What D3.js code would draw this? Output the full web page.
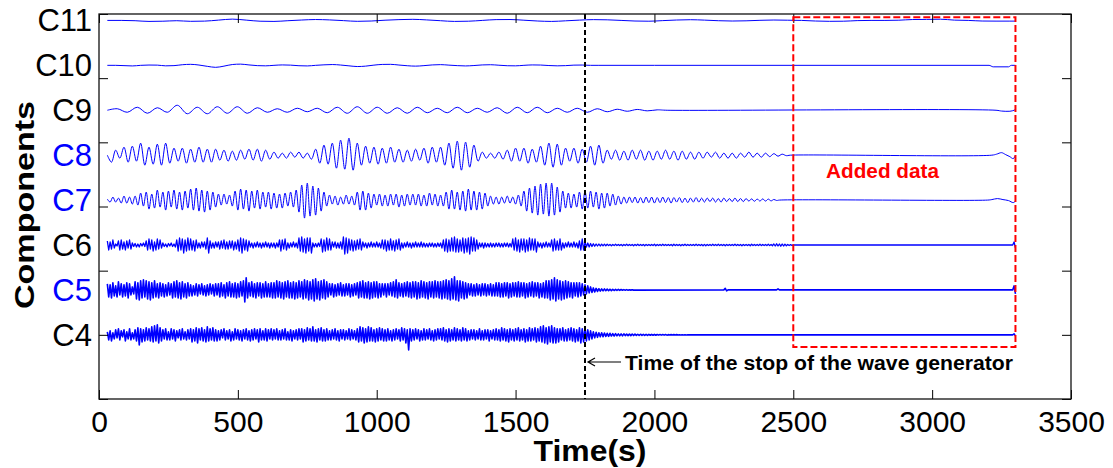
<!DOCTYPE html>
<html><head><meta charset="utf-8">
<script src="https://cdn.jsdelivr.net/npm/d3@7"></script>
<style>body{margin:0;background:#fff}svg{display:block}text{font-family:"Liberation Sans",Arial,sans-serif}</style>
</head><body>
<svg id="chart" width="1113" height="468"></svg>
<script>
// ---------- data ----------
const componentNames = ["C4","C5","C6","C7","C8","C9","C10","C11"];
const componentLevels = [1, 1.7, 2.4, 3.1, 3.8, 4.5, 5.2, 5.9];
const xTicks = [0,500,1000,1500,2000,2500,3000,3500];
const yTicks = [0,1,2,3,4,5,6];
const tStart = 30;
const stopTime = 1750;
const addedStart = 2500, addedEnd = 3300, addedLow = 0.81, addedHigh = 5.95;

const c4Step = 5;
const c4 = [
3,-5,4,-6,2,-4,5,-3,6,-5,4,-2,5,-6,3,-4,6,-5,2,-4,
5,-6,7,-10,6,-7,5,-6,7,-5,6,-6,8,-7,9,-6,10,-8,7,-6,
5,-4,6,-5,3,-5,6,-4,5,-6,4,-3,5,-5,6,-4,3,-5,5,-4,
6,-7,5,-6,7,-8,6,-5,7,-6,5,-7,8,-6,6,-5,7,-6,5,-6,
4,-5,5,-3,6,-5,4,-4,5,-6,3,-5,6,-4,5,-5,4,-6,5,-4,
6,-5,4,-6,5,-5,6,-4,5,-7,6,-5,4,-5,6,-6,5,-4,6,-5,
5,-4,6,-5,4,-5,5,-4,6,-5,3,-5,5,-6,4,-4,5,-5,6,-4,
6,-7,5,-6,7,-5,6,-6,8,-6,5,-7,6,-5,7,-6,5,-6,6,-5,
4,-5,5,-4,6,-5,4,-6,5,-4,5,-5,4,-4,6,-5,5,-4,4,-5,
6,-7,8,-6,7,-8,6,-7,8,-6,7,-6,5,-7,6,-6,7,-5,6,-6,
5,-6,6,-5,4,-6,5,-5,6,-4,5,-6,7,-5,6,-8,5,-15,6,-6,
5,-5,6,-4,5,-6,4,-5,6,-5,5,-4,6,-5,4,-6,5,-5,6,-4,
6,-5,7,-6,5,-7,6,-6,5,-5,7,-6,6,-5,5,-6,7,-5,6,-6,
4,-5,5,-4,5,-5,4,-4,6,-5,4,-5,5,-4,5,-6,4,-4,5,-5,
6,-5,5,-6,7,-5,6,-6,5,-7,6,-5,5,-6,6,-5,7,-6,5,-5,
6,-7,5,-6,7,-6,6,-5,7,-7,6,-6,8,-7,9,-8,7,-9,8,-7,
9,-8,7,-8,6,-7,6,-5,7,-6,5,-6,6,-5,7,-6,6,-7,5,-6,
7,-8,6,-7,7,-6,5,-5,4,-4,3,-3,2.5,-2.5,2,-2,2,-1.8,1.8,-1.5,
1.5,-1.5,1.5,-1.2,1.2,-1.2,1.2,-1,1,-1,1,-1,1,-0.8,0.8,-0.8,0.8,-0.8,0.8,-0.7,
0.7,-0.6,0.6,-0.6,0.6,-0.5,0.5,-0.5,0.5,-0.5,0.5,-0.4,0.4,-0.4,0.4,-0.4,0.4,-0.3,0.3,-0.3,
0.3,-0.3,0.3,-0.3,0.2,-0.2,0.2,-0.2,0.2,-0.2,0.2,-0.2,0.1,-0.1,0.1,-0.1,0.1,-0.1,0,0];
const c4Tail = [[3290,0],[3295,1],[3300,-1]];

const c5Step = 5;
const c5 = [
6,-7,5,-8,7,-6,4,-7,8,-5,6,-7,5,-6,7,-8,6,-5,3,-4,
8,-9,7,-10,9,-8,10,-7,9,-9,8,-10,7,-8,9,-7,6,-8,7,-6,
6,-7,5,-6,7,-5,6,-8,8,-7,9,-8,7,-9,8,-7,6,-8,7,-6,
5,-6,4,-5,6,-6,5,-4,6,-5,4,-6,5,-5,6,-4,5,-6,6,-5,
6,-7,7,-6,5,-8,7,-6,8,-7,6,-7,7,-8,6,-7,8,-6,9,-12,
12,-8,7,-6,8,-7,6,-8,7,-6,7,-8,6,-7,8,-7,6,-7,7,-8,
7,-8,9,-7,8,-8,7,-9,8,-7,9,-8,7,-8,8,-9,7,-8,9,-7,
8,-9,10,-8,9,-10,8,-9,10,-11,11,-9,8,-10,9,-8,10,-9,8,-7,
6,-5,6,-7,5,-6,6,-5,7,-6,5,-6,6,-5,6,-7,5,-6,6,-5,
7,-8,8,-7,9,-8,7,-8,8,-9,7,-8,8,-7,8,-8,6,-7,6,-5,
6,-7,6,-5,7,-6,8,-7,10,-8,7,-6,6,-7,7,-6,8,-7,7,-8,
8,-7,8,-9,7,-8,9,-7,8,-8,7,-9,8,-7,8,-8,9,-7,8,-8,
8,-9,9,-8,10,-9,9,-10,11,-9,13,-10,9,-11,9,-8,8,-9,7,-8,
6,-5,6,-6,5,-6,6,-5,5,-6,6,-5,6,-6,5,-5,6,-6,5,-6,
7,-6,7,-7,6,-7,7,-6,7,-8,6,-7,7,-6,7,-7,8,-7,7,-6,
7,-8,6,-7,7,-6,8,-7,7,-6,7,-8,6,-7,7,-8,9,-8,9,-10,
10,-9,12,-11,10,-9,9,-10,8,-9,9,-8,8,-7,7,-8,7,-6,7,-7,
7,-6,6,-5,5,-4,4,-3,3,-2.5,2,-2,1.5,-1.5,1.2,-1.2,1,-1,1,-0.8,
0.8,-0.8,0.7,-0.7,0.6,-0.6,0.5,-0.5,0.5,-0.4,0.4,-0.4,0.3,-0.3,0.3,-0.3,0.2,-0.2,0.2,-0.2];
const c5Tail = [[2250,0],[2255,1.5],[2260,-1],[2265,0],[2440,0],[2445,1],[2450,0],[3290,0],[3295,4],[3300,-4]];

const c6Step = 5;
const c6 = [
4,-5,3,-4,5,-3,1,-1,4,-5,5,-4,3,-5,4,-3,5,-4,2,-1.5,
1.5,-2,1,-2,1.5,-1,2,-1.5,4,-5,6,-4,5,-6,3,-5,6,-4,5,-3,
2,-1.5,1,-2,1.5,-1,2,-1.5,1,-2,5,-6,7,-5,6,-8,5,-6,7,-5,
6,-5,4,-6,5,-3,2,-3,3,-2,3,-4,7,-8,4,-3,2,-3,3,-2,
3,-4,4,-3,5,-4,3,-4,4,-3,4,-5,3,-4,5,-6,7,-8,6,-5,
5,-6,4,-2,2,-3,2,-2,3,-2,2,-3,2,-2,3,-2,2,-3,2,-2,
2,-3,2,-2,5,-6,5,-4,6,-5,2,-3,2,-2,3,-2,2,-3,7,-6,
8,-7,6,-8,7,-6,7,-8,2,-2,1.5,-2,2,-1.5,6,-7,5,-6,7,-5,
6,-5,3,-2,3,-3,2,-3,3,-4,8,-9,7,-8,6,-5,5,-6,4,-5,
5,-4,6,-5,3,-2,2,-3,2,-2,3,-2,2,-2,3,-2,2,-3,5,-4,
5,-6,4,-5,6,-5,4,-6,5,-4,6,-5,2,-3,2,-2,3,-2,2,-3,
2,-2,3,-2,2,-2,3,-2,2,-2,1.5,-2,2,-1.5,2,-2,1.5,-2,2,-1.5,
2,-3,5,-6,6,-7,5,-6,7,-6,8,-7,6,-7,5,-6,7,-8,6,-7,
7,-9,8,-6,7,-6,5,-4,2,-2,2,-3,2,-2,1.5,-2,2,-2,1.5,-2,
2,-1.5,2,-2,1.5,-2,2,-1.5,2,-2,1.5,-2,6,-5,7,-6,5,-7,6,-5,
6,-7,5,-6,7,-5,6,-5,6,-7,3,-2,2,-3,2,-2,3,-2,2,-2,
5,-6,6,-5,4,-5,6,-5,2,-3,2,-2,3,-2,2,-2,3,-2,2,-3,
4,-5,6,-5,3,-2,2,-2,1.5,-1.5,1.2,-1.2,1,-1,1,-1,0.8,-0.8,0.8,-0.8,
0.7,-0.6,0.6,-0.7,0.5,-0.6,0.7,-0.5,0.6,-0.6,0.6,-0.7,0.5,-0.5,0.7,-0.6,0.6,-0.5,0.5,-0.7,
0.6,-0.5,0.7,-0.6,0.5,-0.6,0.6,-0.7,0.6,-0.5,0.5,-0.6,0.6,-0.5,0.7,-0.7,0.5,-0.6,0.6,-0.6,
0.7,-0.5,0.6,-0.6,0.5,-0.5,0.6,-0.7,0.7,-0.6,0.6,-0.6,0.5,-0.7,0.6,-0.5,0.7,-0.6,0.5,-0.6,
0.5,-0.5,0.6,-0.6,0.7,-0.6,0.5,-0.6,0.6,-0.7,0.6,-0.7,0.6,-0.5,0.5,-0.6,0.7,-0.5,0.6,-0.6,
0.7,-0.6,0.5,-0.6,0.6,-0.7,0.6,-0.5,0.5,-0.6,0.6,-0.5,0.7,-0.6,0.6,-0.6,0.5,-0.7,0.6,-0.5,
0.5,-0.6,0.6,-0.7,0.7,-0.5,0.6,-0.6,0.5,-0.6,0.7,-0.6,0.6,-0.5,0.6,-0.6,0.7,-0.6,0.5,-0.7,
1,-1,1.2,-1,1,-1.2,1,-1,0.8,-0.8,0.6,-0.5,0.4,-0.3,0];
const c6Tail = [[3290,0],[3295,3],[3300,-3]];

const c7Step = 10;
const c7 = [
1,-2,3,-2,2,-3,4,-3,3,-4,
4,-5,7,-6,8,-9,6,-8,10,-7,
8,-10,9,-7,10,-9,8,-10,9,-8,
11,-10,12,-11,10,-12,9,-10,8,-7,
6,-5,6,-4,5,-6,9,-10,11,-9,
10,-11,9,-8,10,-9,8,-7,8,-9,
7,-8,6,-8,7,-6,8,-7,10,-12,
15,-18,17,-16,14,-15,12,-11,8,-6,
5,-4,4,-5,3,-4,5,-4,4,-5,
8,-10,9,-10,7,-8,6,-5,6,-6,
5,-6,6,-5,6,-7,5,-6,6,-5,
6,-5,6,-6,5,-6,7,-5,6,-6,
5,-6,8,-9,10,-9,8,-10,9,-11,
11,-10,9,-10,8,-9,7,-6,4,-4,
3,-4,3,-3,4,-3,3,-4,5,-6,
9,-11,12,-13,14,-15,16,-14,17,-16,
17,-15,13,-12,9,-8,7,-8,6,-7,
8,-9,9,-8,9,-7,8,-9,7,-8,
7,-6,6,-5,4,-4,3,-3,3,-2.5,
3,-3,2.5,-3,3,-2.5,3,-3,2.5,-2.5,
3,-2.5,2.5,-3,2.5,-2,2.5,-2.5,2,-2.5,
2,-2,2.5,-2,2,-2,2,-1.5,2,-2,
1.5,-2,2,-1.5,1.5,-1.5,2,-1.5,1.5,-1.5,
1.5,-1,1.2,-1.2,1,-1,1.2,-1,1,-0.8,
0.6,-0.4,0];
const c7Tail = [[3200,0],[3215,0.5],[3235,1.5],[3255,0.5],[3275,-0.5],[3292,-2.5],[3300,-1]];

const c8Step = 15;
const c8 = [
0,-7,5,-3,8,-7,9,-6,12,-10,
8,-9,11,-10,12,-8,7,-6,7,-8,
6,-7,8,-7,6,-7,6,-5,5,-6,
4,-5,5,-4,6,-5,6,-6,5,-4,
3,-3,2,-3,3,-2,3,-3,2,-4,
6,-8,10,-9,12,-13,15,-14,17,-15,
12,-10,9,-8,8,-9,7,-8,8,-7,
6,-7,5,-6,6,-5,7,-8,8,-7,
8,-10,12,-13,14,-15,13,-12,10,-6,
3,-3,2,-3,3,-4,5,-6,7,-6,
7,-8,6,-7,9,-10,12,-12,11,-10,
7,-6,7,-8,6,-7,9,-10,10,-8,
5,-4,5,-5,4,-5,5,-4,5,-5,
4,-5,4,-4,5,-4,4,-5,4,-4,
3,-4,3,-3,3,-2,3,-3,2,-3,
2,-3,2,-2,3,-2,2,-2,2,-1.5,
1.5,-1,1,-0.5,0];
const c8Tail = [[3215,0],[3232,1],[3250,2.5],[3265,0.5],[3280,-1.5],[3292,-3.5],[3300,0]];

const c9Step = 36;
const c9 = [0,1.5,-2,3,-3,2.5,-2,5,-3.5,3,-3.5,3.5,-3,3.5,-3,2.5,-2,1.5,-2,2,
-1.5,2,-2.5,3,-3,3.5,-3,3,-3,2.5,-3,3,-2.5,2,-2.5,3,-2.5,2,-2,2.5,
-3,3,-2.5,3,-2.5,2,-2,2,-2,1.5,-1.5,1,-1,0.8,-0.6,0.4,0];
const c9Tail = [[3230,0],[3250,-0.8],[3280,-1],[3295,0],[3300,0.8]];

const c10Step = 30;
const c10 = [0,0,-0.3,-0.6,0,0.3,0.2,-0.5,-0.3,0.6,1,0.3,-1,-2,-0.8,0.8,1.2,0.4,-0.3,-0.5,
0,0.4,0.2,-0.4,-0.6,0,0.5,0.8,0.3,-0.5,-1.2,-0.8,0.2,0.9,1,0.3,-0.4,-0.8,-0.3,0.4,
0.7,0.2,-0.3,-0.6,-0.2,0.4,0.6,0.1,-0.4,-0.5,0,0.4,0.3,-0.2,-0.5,-0.3,0.2,0.3,0,0];
const c10Tail = [[2000,0],[3205,0],[3220,-1.5],[3275,-1.5],[3285,0],[3300,0]];

const c11Step = 50;
const c11 = [0,0,-0.3,-1,-0.8,-0.3,-0.9,-0.7,0.3,1.3,0.3,-0.8,-1,-0.3,0.4,0.9,0.5,-0.2,-0.9,-0.6,
0.2,0.8,1.1,0.5,-0.3,-1,-0.8,0,0.8,0.9,0.2,-0.6,-1,-0.4,0.3,0.8,0.6,0,-0.6,-0.8,
-0.2,0.4,0.7,0.3,-0.3,-0.6,-0.4,0.1,0.4,0.2,0,-0.6,-0.9,-0.8,-0.2,0,0,0.2,0.9,1,
1.2,0.3,0,-0.6,-0.7,-0.7];
const c11Tail = [[3300,-0.7]];

// ---------- styles / layout ----------
const plot = {left: 99, right: 1071, top: 14, bottom: 399};
const ampUnit = 0.0156; // axis units per amplitude unit
const seriesList = [
  {vals: c4, step: c4Step, tail: c4Tail, curve: d3.curveLinear, width: 1.6},
  {vals: c5, step: c5Step, tail: c5Tail, curve: d3.curveLinear, width: 1.6},
  {vals: c6, step: c6Step, tail: c6Tail, curve: d3.curveLinear, width: 1.3},
  {vals: c7, step: c7Step, tail: c7Tail, curve: d3.curveCatmullRom, width: 1},
  {vals: c8, step: c8Step, tail: c8Tail, curve: d3.curveCatmullRom, width: 1},
  {vals: c9, step: c9Step, tail: c9Tail, curve: d3.curveCatmullRom, width: 1},
  {vals: c10, step: c10Step, tail: c10Tail, curve: d3.curveMonotoneX, width: 1},
  {vals: c11, step: c11Step, tail: c11Tail, curve: d3.curveMonotoneX, width: 1}
];
const labelColors = {C4:"#000",C5:"#0000ff",C6:"#000",C7:"#0000ff",C8:"#0000ff",C9:"#000",C10:"#000",C11:"#000"};

const svg = d3.select("#chart");
const x = d3.scaleLinear().domain([0, 3500]).range([plot.left, plot.right]);
const y = d3.scaleLinear().domain([0, 6]).range([plot.bottom, plot.top]);

// signals
seriesList.forEach((s, k) => {
  const lvl = componentLevels[k];
  const pts = s.vals.map((v, i) => [tStart + i * s.step, lvl + v * ampUnit])
    .concat(s.tail.map(([t, v]) => [t, lvl + v * ampUnit]));
  const line = d3.line().x(d => x(d[0])).y(d => y(d[1])).curve(s.curve);
  svg.append("path").attr("d", line(pts))
    .attr("fill", "none").attr("stroke", "#0000ff").attr("stroke-width", s.width)
    .attr("stroke-linejoin", "round");
});

// axes (inward ticks)
const gB = svg.append("g").attr("transform", `translate(0,${plot.bottom})`)
  .call(d3.axisBottom(x).tickValues(xTicks).tickFormat(d3.format("d"))
    .tickSizeInner(-9).tickSizeOuter(0).tickPadding(12));
const gT = svg.append("g").attr("transform", `translate(0,${plot.top})`)
  .call(d3.axisTop(x).tickValues(xTicks).tickSizeInner(-9).tickSizeOuter(0).tickFormat(""));
const gL = svg.append("g").attr("transform", `translate(${plot.left},0)`)
  .call(d3.axisLeft(y).tickValues(yTicks).tickSizeInner(-9).tickSizeOuter(0).tickFormat(""));
const gR = svg.append("g").attr("transform", `translate(${plot.right},0)`)
  .call(d3.axisRight(y).tickValues(yTicks).tickSizeInner(-9).tickSizeOuter(0).tickFormat(""));
[gB, gT, gL, gR].forEach(g => {
  g.select(".domain").remove();
  g.selectAll(".tick line").attr("stroke", "#000").attr("stroke-width", 1);
});
gB.selectAll(".tick text").attr("font-size", 30).attr("fill", "#000")
  .style("font-family", '"Liberation Sans", Arial, sans-serif');

// frame
svg.append("rect").attr("x", plot.left).attr("y", plot.top)
  .attr("width", plot.right - plot.left).attr("height", plot.bottom - plot.top)
  .attr("fill", "none").attr("stroke", "#111").attr("stroke-width", 1.3);

// component labels
componentNames.forEach((n, k) => {
  svg.append("text").attr("x", 92).attr("y", y(componentLevels[k]) + 11)
    .attr("text-anchor", "end").attr("font-size", 31).attr("fill", labelColors[n]).text(n);
});

// stop line
svg.append("line").attr("x1", x(stopTime)).attr("x2", x(stopTime))
  .attr("y1", plot.top).attr("y2", plot.bottom)
  .attr("stroke", "#000").attr("stroke-width", 2).attr("stroke-dasharray", "5,3");

// added data box
svg.append("rect").attr("x", x(addedStart)).attr("y", y(addedHigh))
  .attr("width", x(addedEnd) - x(addedStart)).attr("height", y(addedLow) - y(addedHigh))
  .attr("fill", "none").attr("stroke", "#ff0000").attr("stroke-width", 2).attr("stroke-dasharray", "7,3");
svg.append("text").attr("x", 826).attr("y", 178).attr("font-size", 21).attr("font-weight", "bold")
  .attr("fill", "#ff0000").attr("textLength", 113).attr("lengthAdjust", "spacingAndGlyphs").text("Added data");

// arrow annotation
const ay = 362, ax0 = x(stopTime) + 3, ax1 = ax0 + 33;
svg.append("path").attr("d", `M${ax1},${ay}H${ax0}M${ax0 + 7},${ay - 4}L${ax0},${ay}L${ax0 + 7},${ay + 4}`)
  .attr("fill", "none").attr("stroke", "#000").attr("stroke-width", 1.2);
svg.append("text").attr("x", 625).attr("y", 370).attr("font-size", 20).attr("font-weight", "bold")
  .attr("textLength", 388).attr("lengthAdjust", "spacingAndGlyphs")
  .text("Time of the stop of the wave generator");

// axis titles
svg.append("text").attr("x", 590).attr("y", 461).attr("text-anchor", "middle")
  .attr("font-size", 30).attr("font-weight", "bold")
  .attr("textLength", 113).attr("lengthAdjust", "spacingAndGlyphs").text("Time(s)");
svg.append("text").attr("transform", "translate(34,205) rotate(-90)").attr("text-anchor", "middle")
  .attr("font-size", 28).attr("font-weight", "bold")
  .attr("textLength", 208).attr("lengthAdjust", "spacingAndGlyphs").text("Components");
</script>
</body></html>
